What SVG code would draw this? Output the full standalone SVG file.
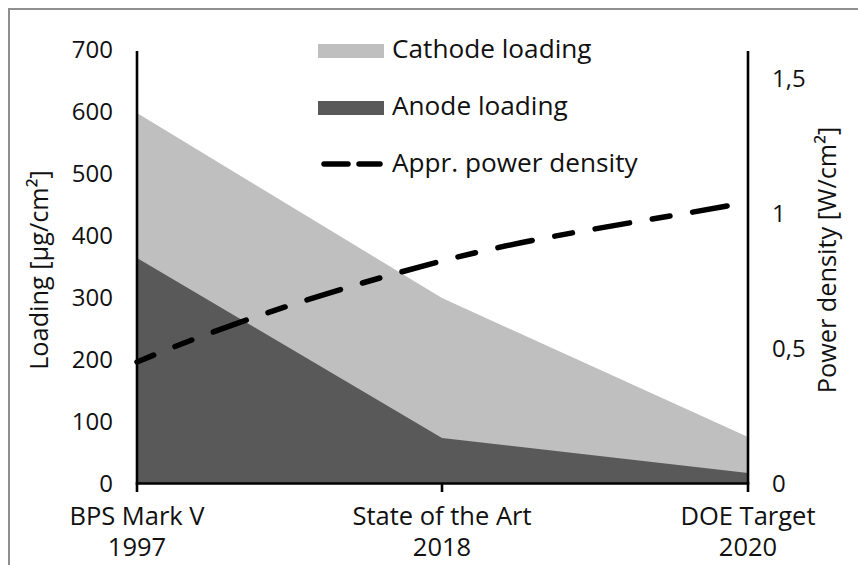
<svg xmlns="http://www.w3.org/2000/svg" width="858" height="565" viewBox="0 0 858 565">
<style>
text{font-family:"Open Sans","Noto Sans","DejaVu Sans",sans-serif;fill:#111;}
.tick{font-size:24px;}
.lbl{font-size:25.5px;text-anchor:middle;}
.leg{font-size:26.2px;}
.title{font-size:25.3px;text-anchor:middle;}
.axis{stroke:#000;stroke-width:2.6;fill:none;}
</style>
<rect x="0" y="0" width="858" height="565" fill="#fff"/>
<rect x="9" y="9" width="870" height="580" fill="#fff" stroke="#8f8f8f" stroke-width="2"/>
<g id="areas">
<polygon points="137,113 442,298 748,437 748,483.5 137,483.5" fill="#bfbfbf"/>
<polygon points="137,258 442,438 748,473 748,483.5 137,483.5" fill="#595959"/>
</g>
<g id="power-line">
<path d="M137,362 C237,320 340,287.7 442,261 C543.8,234.3 646,221.7 748,202" fill="none" stroke="#000" stroke-width="5.5" stroke-linecap="round" stroke-dasharray="35 23 18 23" stroke-dashoffset="17"/>
</g>
<g id="axes">
<line class="axis" x1="137" y1="51" x2="137" y2="492"/>
<line class="axis" x1="748" y1="51" x2="748" y2="492"/>
<line class="axis" x1="135.7" y1="483.5" x2="749.3" y2="483.5"/>
<line class="axis" x1="442" y1="483.5" x2="442" y2="492"/>
</g>
<g id="left-ticks" class="tick" text-anchor="end">
<text class="tick" x="113" y="492">0</text>
<text class="tick" x="113" y="430">100</text>
<text class="tick" x="113" y="368">200</text>
<text class="tick" x="113" y="306">300</text>
<text class="tick" x="113" y="244">400</text>
<text class="tick" x="113" y="182">500</text>
<text class="tick" x="113" y="120">600</text>
<text class="tick" x="113" y="58">700</text>
</g>
<g id="right-ticks">
<text class="tick" x="772" y="492">0</text>
<text class="tick" x="772" y="357">0,5</text>
<text class="tick" x="772" y="222">1</text>
<text class="tick" x="772" y="87">1,5</text>
</g>
<g id="x-labels">
<text class="lbl" x="137" y="525">BPS Mark V</text>
<text class="lbl" x="137" y="556">1997</text>
<text class="lbl" x="442" y="525">State of the Art</text>
<text class="lbl" x="442" y="556">2018</text>
<text class="lbl" x="748" y="525">DOE Target</text>
<text class="lbl" x="748" y="556">2020</text>
</g>
<g id="axis-titles">
<text class="title" transform="translate(48,270) rotate(-90)">Loading [µg/cm²]</text>
<text class="title" transform="translate(836,260) rotate(-90)">Power density [W/cm²]</text>
</g>
<g id="legend">
<g id="legend-cathode">
<rect x="318" y="44" width="66" height="14" fill="#bfbfbf"/>
<text class="leg" x="392" y="58">Cathode loading</text>
</g>
<g id="legend-anode">
<rect x="318" y="101" width="66" height="14" fill="#595959"/>
<text class="leg" x="392" y="115">Anode loading</text>
</g>
<g id="legend-power">
<line x1="324" y1="164" x2="348" y2="164" stroke="#000" stroke-width="5.5" stroke-linecap="round"/>
<line x1="359" y1="164" x2="380" y2="164" stroke="#000" stroke-width="5.5" stroke-linecap="round"/>
<text class="leg" x="392" y="172">Appr. power density</text>
</g>
</g>
</svg>
